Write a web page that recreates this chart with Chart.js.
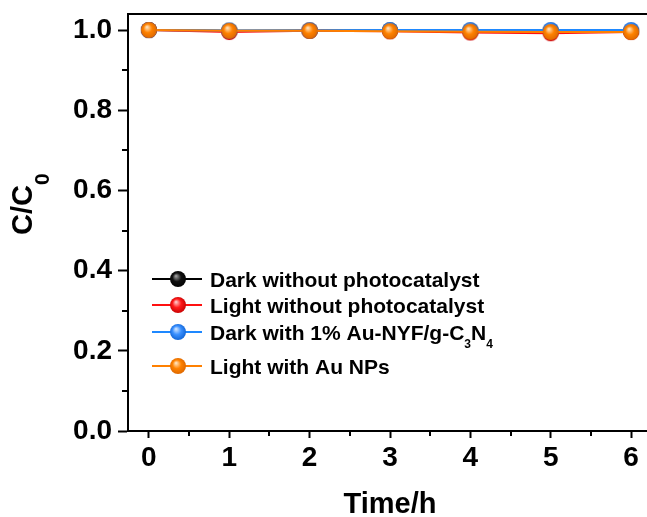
<!DOCTYPE html>
<html>
<head>
<meta charset="utf-8">
<script src="https://cdn.jsdelivr.net/npm/chart.js@4"></script>
<style>
  html, body { margin: 0; padding: 0; background: #fff; overflow: hidden; }
  canvas { display: block; }
</style>
</head>
<body>
<canvas id="chart" width="662" height="517"></canvas>
<script>
// data
const timeHours = [0, 1, 2, 3, 4, 5, 6];
const darkNoCatalyst = [1.000, 0.998, 0.999, 0.999, 0.998, 0.998, 0.997];
const lightNoCatalyst = [1.000, 0.995, 0.998, 0.997, 0.994, 0.992, 0.995];
const darkAuNyf = [1.000, 0.999, 0.999, 1.000, 1.000, 1.000, 1.000];
const lightAuNps = [1.000, 0.998, 0.998, 0.997, 0.996, 0.995, 0.995];

const seriesLabels = [
  "Dark without photocatalyst",
  "Light without photocatalyst",
  "Dark with 1% Au-NYF/g-C_3N_4",
  "Light with Au NPs"
];

const xTickValues = [0, 1, 2, 3, 4, 5, 6];
const xMinorTicks = [0.5, 1.5, 2.5, 3.5, 4.5, 5.5];
const yTickValues = [0.0, 0.2, 0.4, 0.6, 0.8, 1.0];
const yMinorTicks = [0.1, 0.3, 0.5, 0.7, 0.9];

const FONT = '"Liberation Sans", Arial, sans-serif';

function makeMarker(color, light, dark) {
  const c = document.createElement("canvas");
  c.width = 18;
  c.height = 18;
  const g = c.getContext("2d");
  const grad = g.createRadialGradient(7, 6, 0.5, 9, 9, 9);
  grad.addColorStop(0, light);
  grad.addColorStop(0.45, color);
  grad.addColorStop(1, dark);
  g.fillStyle = grad;
  g.beginPath();
  g.arc(9, 9, 8, 0, Math.PI * 2);
  g.fill();
  return c;
}

const styles = [
  { line: "#000000", marker: makeMarker("#111111", "#9a9a9a", "#000000") },
  { line: "#ff1010", marker: makeMarker("#ff1a1a", "#ffc0c0", "#c00000") },
  { line: "#1e88ff", marker: makeMarker("#3a90ff", "#c8e0ff", "#0b5fd0") },
  { line: "#ff8000", marker: makeMarker("#ff8200", "#ffe0b8", "#d86400") }
];

const seriesValues = [darkNoCatalyst, lightNoCatalyst, darkAuNyf, lightAuNps];

// draws text where "_x" means subscript x
function drawRich(ctx, text, x, y, size, subSize, subDrop) {
  const parts = text.split(/_(\w)/);
  parts.forEach((p, i) => {
    const sub = i % 2 === 1;
    ctx.font = "bold " + (sub ? subSize : size) + "px " + FONT;
    ctx.fillText(p, x, sub ? y + subDrop : y);
    x += ctx.measureText(p).width;
  });
}

const decorPlugin = {
  id: "decor",
  afterDraw(chart) {
    const ctx = chart.ctx;
    const area = chart.chartArea;
    const xs = chart.scales.x;
    const ys = chart.scales.y;
    ctx.save();
    ctx.strokeStyle = "#000";
    ctx.fillStyle = "#000";

    // frame
    ctx.lineWidth = 2;
    ctx.strokeRect(area.left, area.top, area.right - area.left, area.bottom - area.top);

    // minor ticks
    ctx.beginPath();
    xMinorTicks.forEach(v => {
      const px = Math.round(xs.getPixelForValue(v));
      ctx.moveTo(px, area.bottom);
      ctx.lineTo(px, area.bottom + 5);
    });
    yMinorTicks.forEach(v => {
      const py = Math.round(ys.getPixelForValue(v));
      ctx.moveTo(area.left, py);
      ctx.lineTo(area.left - 6, py);
    });
    ctx.stroke();

    // legend
    const rowY = [273, 299, 326, 360];
    ctx.textAlign = "left";
    ctx.textBaseline = "alphabetic";
    seriesLabels.forEach((label, i) => {
      const ds = chart.data.datasets[i];
      const base = area.top + rowY[i];
      const cy = base - 8;
      const x0 = area.left + 24;
      ctx.strokeStyle = ds.borderColor;
      ctx.lineWidth = 2;
      ctx.beginPath();
      ctx.moveTo(x0, cy);
      ctx.lineTo(x0 + 50, cy);
      ctx.stroke();
      ctx.drawImage(ds.pointStyle, x0 + 26 - 9, cy - 9);
      ctx.fillStyle = "#000";
      drawRich(ctx, label, x0 + 58, base, 21, 12, 8);
    });

    // axis titles
    ctx.fillStyle = "#000";
    ctx.textAlign = "center";
    ctx.font = "bold 29px " + FONT;
    ctx.fillText("Time/h", (area.left + area.right) / 2, 513);

    ctx.textAlign = "left";
    ctx.translate(32, 235);
    ctx.rotate(-Math.PI / 2);
    drawRich(ctx, "C/C_0", 0, 0, 29, 21, 17);
    ctx.restore();
  }
};

const ctx = document.getElementById("chart").getContext("2d");

new Chart(ctx, {
  type: "line",
  data: {
    datasets: seriesValues.map((vals, i) => ({
      label: seriesLabels[i],
      data: vals.map((v, j) => ({ x: timeHours[j], y: v })),
      borderColor: styles[i].line,
      backgroundColor: styles[i].line,
      borderWidth: 2,
      pointStyle: styles[i].marker,
      pointRadius: 8,
      tension: 0,
      fill: false,
      order: seriesValues.length - i  // later series drawn on top
    }))
  },
  options: {
    responsive: false,
    animation: false,
    devicePixelRatio: 1,
    layout: { padding: { top: 14, right: 6, left: 0, bottom: 0 } },
    plugins: {
      legend: { display: false },
      tooltip: { enabled: false }
    },
    scales: {
      x: {
        type: "linear",
        min: -0.26,
        max: 6.26,
        afterBuildTicks: s => { s.ticks = xTickValues.map(v => ({ value: v })); },
        afterFit: s => { s.height = 86; s.paddingLeft = 0; s.paddingRight = 0; },
        ticks: {
          color: "#000",
          font: { family: FONT, size: 28, weight: "bold" },
          padding: 3,
          maxRotation: 0,
          callback: v => String(v)
        },
        grid: {
          drawOnChartArea: false,
          drawTicks: true,
          tickLength: 7,
          tickWidth: 2,
          tickColor: "#000"
        },
        border: { display: true, color: "#000", width: 2 }
      },
      y: {
        type: "linear",
        min: 0,
        max: 1.04,
        afterBuildTicks: s => { s.ticks = yTickValues.map(v => ({ value: v })); },
        afterFit: s => { s.width = 128; s.paddingTop = 0; s.paddingBottom = 0; },
        ticks: {
          color: "#000",
          font: { family: FONT, size: 28, weight: "bold" },
          padding: 6,
          callback: v => v.toFixed(1)
        },
        grid: {
          drawOnChartArea: false,
          drawTicks: true,
          tickLength: 10,
          tickWidth: 2,
          tickColor: "#000"
        },
        border: { display: true, color: "#000", width: 2 }
      }
    }
  },
  plugins: [decorPlugin]
});
</script>
</body>
</html>
